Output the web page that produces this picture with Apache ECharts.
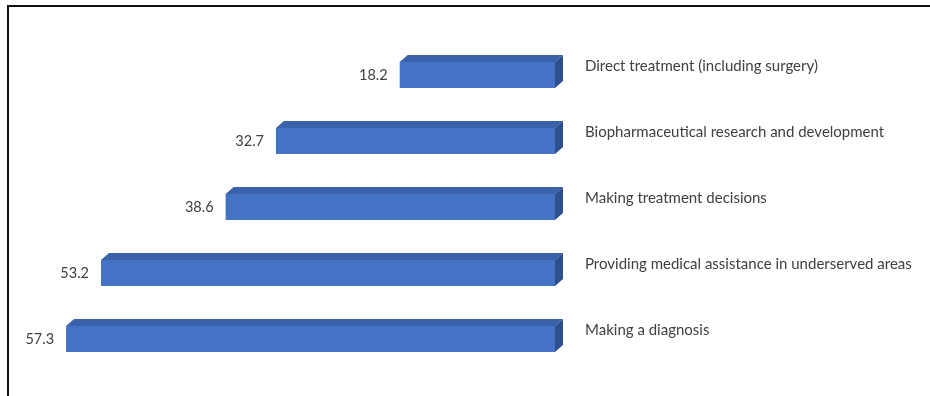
<!DOCTYPE html>
<html>
<head>
<meta charset="utf-8">
<script src="https://cdn.jsdelivr.net/npm/echarts@6/dist/echarts.min.js"></script>
<style>
  html, body { margin: 0; padding: 0; background: #fff; }
  #chart { width: 930px; height: 396px; }
</style>
</head>
<body>
<div id="chart"></div>
<script>
// Uses of AI in healthcare, share of respondents (%)
const categories = [
  'Direct treatment (including surgery)',
  'Biopharmaceutical research and development',
  'Making treatment decisions',
  'Providing medical assistance in underserved areas',
  'Making a diagnosis'
];
const values = [18.2, 32.7, 38.6, 53.2, 57.3];

const FONT = 'Lato, "Open Sans", sans-serif';
const TEXT_COLOR = '#404040';
const FRONT = '#4472C4';
const TOP = '#3A62AA';
const SIDE = '#2D4F8E';
const BAR_H = 26;   // height of the front face
const DX = 8;       // depth offset to the right
const DY = -7;      // depth offset upward

const chart = echarts.init(document.getElementById('chart'));

// Draws one 3D bar: front face, top face, right side face and a value label.
function renderBar(params, api) {
  const idx = api.value(0);
  const val = api.value(1);
  const end = api.coord([val, idx]);     // left end (axis is inverted)
  const start = api.coord([0, idx]);     // right end at zero
  const x0 = end[0], x1 = start[0];
  const yc = start[1];
  const yt = yc - BAR_H / 2, yb = yc + BAR_H / 2;
  return {
    type: 'group',
    children: [
      {
        type: 'polygon',
        shape: { points: [[x0, yt], [x0 + DX, yt + DY], [x1 + DX, yt + DY], [x1, yt]] },
        style: { fill: TOP }
      },
      {
        type: 'polygon',
        shape: { points: [[x1, yt], [x1 + DX, yt + DY], [x1 + DX, yb + DY], [x1, yb]] },
        style: { fill: SIDE }
      },
      {
        type: 'rect',
        shape: { x: x0, y: yt, width: x1 - x0, height: BAR_H },
        style: { fill: FRONT }
      },
      {
        type: 'text',
        x: x0 - 12,
        y: yc,
        style: {
          text: val.toFixed(1),
          align: 'right',
          verticalAlign: 'middle',
          fill: TEXT_COLOR,
          font: '14.5px ' + FONT
        }
      }
    ]
  };
}

const option = {
  animation: false,
  backgroundColor: '#fff',
  grid: { left: 43, right: 375, top: 42, bottom: 24, containLabel: false },
  xAxis: {
    type: 'value',
    min: 0,
    max: 60,
    inverse: true,
    show: false
  },
  yAxis: {
    type: 'category',
    data: categories,
    inverse: true,
    position: 'right',
    axisLine: { show: false },
    axisTick: { show: false },
    splitLine: { show: false },
    axisLabel: {
      margin: 30,
      align: 'left',
      verticalAlign: 'bottom',
      lineHeight: 18,
      color: TEXT_COLOR,
      fontFamily: FONT,
      fontSize: 15
    }
  },
  series: [{
    type: 'custom',
    renderItem: renderBar,
    data: values.map((v, i) => [i, v]),
    encode: { x: 1, y: 0 }
  }],
  graphic: [
    {
      type: 'polyline',
      shape: { points: [[8, 396], [8, 6], [930, 6]] },
      style: { stroke: '#111', lineWidth: 2, fill: null },
      silent: true
    }
  ]
};

chart.setOption(option);
</script>
</body>
</html>
